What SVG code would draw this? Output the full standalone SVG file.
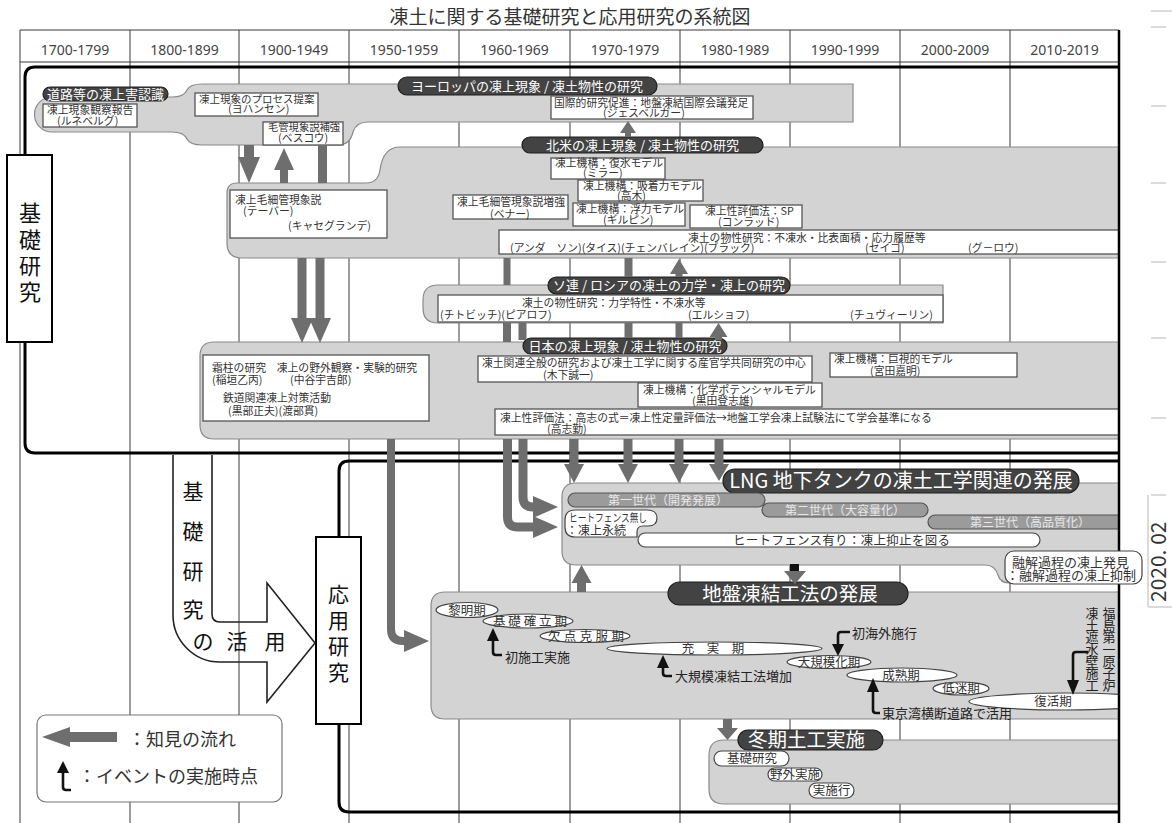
<svg xmlns="http://www.w3.org/2000/svg" width="1172" height="823" viewBox="0 0 1172 823">
<defs>
<style>
text{font-family:"Noto Sans CJK JP","Noto Sans CJK SC",sans-serif;fill:#333}
.hd{font-family:"Noto Sans","Liberation Sans",sans-serif;font-size:14px;text-anchor:middle;fill:#444}
.s{font-size:10.8px}
.rg{fill:#d3d3d3;stroke:#8a8a8a;stroke-width:1.2}
.bx{fill:#fff;stroke:#555;stroke-width:1.3}
.pl{fill:#434343;stroke:#1e1e1e;stroke-width:1.2}
.pt{fill:#fff;font-size:13px;text-anchor:middle}
.big{fill:#fff;text-anchor:middle}
.gn{fill:#9b9b9b;stroke:#555;stroke-width:1.2}
.gt{fill:#e8e8e8;font-size:12px;text-anchor:middle}
.wp{fill:#fff;stroke:#444;stroke-width:1.2}
.ph{font-size:12.5px;text-anchor:middle;fill:#333}
.ev{fill:none;stroke:#111;stroke-width:2.6}
.eh{fill:#111}
.et{font-size:13px;fill:#222}
.ar{fill:#6e6e6e}
.ab{fill:none;stroke:#6e6e6e}
.gl{stroke:#3a3a3a;stroke-width:1}
.th{fill:none;stroke:#000;stroke-width:3}
.lb{fill:#fff;stroke:#000;stroke-width:2}
.vt{text-anchor:middle;fill:#111}
.art{stroke:#cfcfcf;stroke-width:1.5}
</style>
<clipPath id="cp"><rect x="0" y="0" width="1119" height="823"/></clipPath>
</defs>
<rect width="1172" height="823" fill="#fff"/>
<text x="570" y="24" font-size="19" text-anchor="middle" fill="#222">凍土に関する基礎研究と応用研究の系統図</text>

<g id="grid">
<line class="gl" x1="20" y1="30" x2="1119" y2="30"/>
<line class="gl" x1="20" y1="62" x2="1119" y2="62"/>
<line class="gl" x1="20" y1="30" x2="20" y2="823"/>
<line class="gl" x1="130" y1="30" x2="130" y2="823"/>
<line class="gl" x1="239" y1="30" x2="239" y2="823"/>
<line class="gl" x1="349" y1="30" x2="349" y2="823"/>
<line class="gl" x1="459" y1="30" x2="459" y2="823"/>
<line class="gl" x1="570" y1="30" x2="570" y2="823"/>
<line class="gl" x1="680" y1="30" x2="680" y2="823"/>
<line class="gl" x1="790" y1="30" x2="790" y2="823"/>
<line class="gl" x1="900" y1="30" x2="900" y2="823"/>
<line class="gl" x1="1010" y1="30" x2="1010" y2="823"/>
<text class="hd" x="75" y="55">1700-1799</text>
<text class="hd" x="184.5" y="55">1800-1899</text>
<text class="hd" x="294" y="55">1900-1949</text>
<text class="hd" x="404" y="55">1950-1959</text>
<text class="hd" x="514.5" y="55">1960-1969</text>
<text class="hd" x="625" y="55">1970-1979</text>
<text class="hd" x="735" y="55">1980-1989</text>
<text class="hd" x="845" y="55">1990-1999</text>
<text class="hd" x="955" y="55">2000-2009</text>
<text class="hd" x="1064.5" y="55">2010-2019</text>
</g>

<g id="frames">
<path class="th" d="M25,155 V77 Q25,67 35,67 H1119"/>
<path class="th" d="M25,342 V443 Q25,453 35,453 H1119"/>
<path class="th" d="M339,537 V471 Q339,461 349,461 H1119"/>
<path class="th" d="M339,724 V802 Q339,812 349,812 H1119"/>
</g>

<g id="label-kiso">
<rect class="lb" x="7" y="155" width="45" height="187"/>
<text class="vt" font-size="22"><tspan x="30" y="221">基</tspan><tspan x="30" y="248">礎</tspan><tspan x="30" y="274">研</tspan><tspan x="30" y="300">究</tspan></text>
</g>
<g id="label-oyo">
<rect class="lb" x="316" y="537" width="45" height="187"/>
<text class="vt" font-size="21"><tspan x="338.5" y="601.5">応</tspan><tspan x="338.5" y="627.5">用</tspan><tspan x="338.5" y="653.5">研</tspan><tspan x="338.5" y="679.5">究</tspan></text>
</g>
<g id="katsuyo">
<path d="M173,455 V615 A47,47 0 0 0 220,662 H267 V702 L315,643 L267,583 V622 H220 Q212,622 212,614 V455" fill="none" stroke="#222" stroke-width="1.6"/>
<text class="vt" font-size="21"><tspan x="193" y="498.5">基</tspan><tspan x="193" y="538.5">礎</tspan><tspan x="193" y="578.5">研</tspan><tspan x="193" y="616.5">究</tspan><tspan x="203" y="648.5">の</tspan><tspan x="237" y="648.5">活</tspan><tspan x="275" y="648.5">用</tspan></text>
</g>

<g id="europe">
<path class="rg" d="M52,97 H172 Q184,97 187,90 Q190,84 202,84 H853 V122 H368 Q356,122 353,132 Q350,145 338,145 H202 Q190,145 187,139 Q184,132 172,132 H52 A17.5,17.5 0 0 1 52,97 Z"/>
<rect class="pl" x="43" y="87" width="125" height="14" rx="7"/>
<text class="pt" x="105.5" y="98.5">道路等の凍上害認識</text>
<rect class="pl" x="398" y="77" width="259" height="18" rx="9"/>
<text class="pt" x="527" y="91">ヨーロッパの凍上現象 / 凍土物性の研究</text>
<rect class="bx" x="43" y="104" width="94" height="23"/>
<text class="s"><tspan x="47" y="114">凍上現象観察報告</tspan><tspan x="57" y="125">(ルネベルグ)</tspan></text>
<rect class="bx" x="195" y="93" width="123" height="23"/>
<text class="s"><tspan x="199" y="103" font-size="10.5">凍上現象のプロセス提案</tspan><tspan x="228" y="113">(ヨハンセン)</tspan></text>
<rect class="bx" x="263" y="122" width="80" height="23"/>
<text class="s"><tspan x="268" y="131" font-size="10.3">毛管現象説補強</tspan><tspan x="278" y="142">(ベスコウ)</tspan></text>
<rect class="bx" x="551" y="96" width="202" height="23"/>
<text class="s"><tspan x="554" y="106.5">国際的研究促進：地盤凍結国際会議発足</tspan><tspan x="603" y="117">(ジェスベルガー)</tspan></text>
</g>

<g id="northamerica">
<path class="rg" d="M237,183 H366 Q378,183 380,170 Q383,147 400,147 H1119 V258 H242 Q227,258 227,243 V193 Q227,183 237,183 Z"/>
<rect class="pl" x="522" y="137" width="241" height="16" rx="8"/>
<text class="pt" x="642.5" y="149.5">北米の凍上現象 / 凍土物性の研究</text>
<rect class="bx" x="230" y="190" width="157" height="48"/>
<text class="s"><tspan x="235" y="204">凍上毛細管現象説</tspan><tspan x="243" y="215">(テーバー)</tspan><tspan x="288" y="230">(キャセグランデ)</tspan></text>
<rect class="bx" x="551" y="158" width="114" height="21"/>
<text class="s"><tspan x="555" y="167">凍上機構：復氷モデル</tspan><tspan x="583" y="177">(ミラー)</tspan></text>
<rect class="bx" x="578" y="180" width="125" height="21"/>
<text class="s"><tspan x="583" y="189.5">凍上機構：吸着力モデル</tspan><tspan x="617" y="199.5">(高木)</tspan></text>
<rect class="bx" x="453" y="195" width="115" height="24"/>
<text class="s"><tspan x="457" y="206">凍上毛細管現象説増強</tspan><tspan x="490" y="217.5">(ベナー)</tspan></text>
<rect class="bx" x="573" y="203" width="112" height="23"/>
<text class="s"><tspan x="576" y="213">凍上機構：浮力モデル</tspan><tspan x="603" y="224">(ギルピン)</tspan></text>
<rect class="bx" x="690" y="205" width="112" height="23"/>
<text class="s"><tspan x="705" y="215">凍上性評価法：SP</tspan><tspan x="718" y="225.5">(コンラッド)</tspan></text>
<rect class="bx" x="499" y="230" width="620" height="24"/>
<text class="s"><tspan x="688" y="241.5">凍土の物性研究：不凍水・比表面積・応力履歴等</tspan><tspan x="510" y="252">(アンダ　ソン)(タイス)(チェンバレイン)(ブラック)</tspan><tspan x="865" y="252">(セイゴ)</tspan><tspan x="968" y="252">(グ－ロウ)</tspan></text>
</g>

<g id="soviet">
<path class="rg" d="M438,285 H943 V323 H438 Q423,323 423,308 V300 Q423,285 438,285 Z"/>
<rect class="bx" x="438" y="295" width="505" height="27"/>
<rect class="pl" x="548" y="277" width="242" height="17" rx="8.5"/>
<text class="pt" x="669" y="290">ソ連 / ロシアの凍土の力学・凍上の研究</text>
<text class="s"><tspan x="522" y="307">凍土の物性研究：力学特性・不凍水等</tspan><tspan x="440" y="318.5">(チトビッチ)(ピアロフ)</tspan><tspan x="688" y="318.5">(エルショフ)</tspan><tspan x="850" y="318.5">(チュヴィーリン)</tspan></text>
</g>

<g id="japan">
<path class="rg" d="M214,342 H1119 V439 H214 Q200,439 200,425 V356 Q200,342 214,342 Z"/>
<rect class="pl" x="523" y="338" width="204" height="16" rx="8"/>
<text class="pt" x="625" y="350.5">日本の凍上現象 / 凍土物性の研究</text>
<rect class="bx" x="203" y="355" width="226" height="66"/>
<text class="s"><tspan x="212" y="372">霜柱の研究　凍上の野外観察・実験的研究</tspan><tspan x="212" y="384">(稲垣乙丙)</tspan><tspan x="290" y="384">(中谷宇吉郎)</tspan><tspan x="223" y="402">鉄道関連凍上対策活動</tspan><tspan x="228" y="415">(黒部正夫)(渡部貫)</tspan></text>
<rect class="bx" x="478" y="356" width="334" height="26"/>
<text class="s"><tspan x="482" y="366.5">凍土関連全般の研究および凍土工学に関する産官学共同研究の中心</tspan><tspan x="543" y="379">(木下誠一)</tspan></text>
<rect class="bx" x="830" y="353" width="187" height="24"/>
<text class="s"><tspan x="834" y="363">凍上機構：巨視的モデル</tspan><tspan x="870" y="375">(宮田嘉明)</tspan></text>
<rect class="bx" x="638" y="383" width="184" height="24"/>
<text class="s"><tspan x="643" y="393.5">凍上機構：化学ポテンシャルモデル</tspan><tspan x="692" y="405">(黒田登志雄)</tspan></text>
<rect class="bx" x="495" y="409" width="624" height="26"/>
<text class="s"><tspan x="500" y="422">凍上性評価法：高志の式＝凍上性定量評価法→地盤工学会凍上試験法にて学会基準になる</tspan><tspan x="547" y="433">(高志勤)</tspan></text>
</g>

<g id="lng">
<path class="rg" d="M576,483 H1119 V583 H1010 Q1000,583 998,575 Q995,565 985,565 H576 Q562,565 562,551 V497 Q562,483 576,483 Z"/>
<rect class="pl" x="723" y="469" width="356" height="24" rx="12"/>
<text class="big" x="901" y="488" font-size="20">LNG 地下タンクの凍土工学関連の発展</text>
<rect class="gn" x="568" y="493" width="197" height="14" rx="7"/>
<text class="gt" x="668" y="504.5">第一世代（開発発展）</text>
<rect class="gn" x="762" y="503" width="166" height="14" rx="7"/>
<text class="gt" x="845" y="514.5">第二世代（大容量化）</text>
<rect class="gn" x="928" y="515" width="210" height="14" rx="7" clip-path="url(#cp)"/>
<text class="gt" x="1030" y="526.5">第三世代（高品質化）</text>
<rect class="wp" x="638" y="533" width="402" height="14" rx="7"/>
<text x="733" y="544.5" font-size="12.5" textLength="217" lengthAdjust="spacing">ヒートフェンス有り：凍上抑止を図る</text>
<path class="wp" d="M575,510 H647 Q657,510 657,518 Q657,526 648,526 H643 Q637,526 637,532 V537 H575 Q565,537 565,527 V520 Q565,510 575,510 Z"/>
<text><tspan x="569" y="522" font-size="11" textLength="78" lengthAdjust="spacingAndGlyphs">ヒートフェンス無し</tspan><tspan x="566" y="534.5" font-size="12">：凍上永続</tspan></text>
</g>

<g id="jiban">
<path class="rg" d="M445,592 H1119 V719 H445 Q431,719 431,705 V606 Q431,592 445,592 Z"/>
<rect class="pl" x="668" y="582" width="240" height="23" rx="11.5"/>
<text class="big" x="790" y="601" font-size="19.5">地盤凍結工法の発展</text>
<ellipse class="wp" cx="467" cy="610" rx="31" ry="7.5"/>
<text class="ph" x="467" y="614.5">黎明期</text>
<ellipse class="wp" cx="528" cy="621" rx="45" ry="7"/>
<text class="ph" x="530" y="625.5" textLength="74" lengthAdjust="spacing">基礎確立期</text>
<ellipse class="wp" cx="585" cy="636" rx="45" ry="6.5"/>
<text class="ph" x="586" y="640.5" textLength="76" lengthAdjust="spacing">欠点克服期</text>
<ellipse class="wp" cx="714.5" cy="648.5" rx="107.5" ry="6.5"/>
<text class="ph" x="713" y="653" font-size="12">充　実　期</text>
<ellipse class="wp" cx="829" cy="662" rx="42" ry="6.5"/>
<text class="ph" x="829" y="666.5">大規模化期</text>
<ellipse class="wp" cx="902" cy="675" rx="55" ry="7"/>
<text class="ph" x="901" y="679.5">成熟期</text>
<ellipse class="wp" cx="961" cy="688.5" rx="28" ry="6.5"/>
<text class="ph" x="961" y="693">低迷期</text>
<ellipse class="wp" cx="1066" cy="701.5" rx="97" ry="8.5" clip-path="url(#cp)"/>
<text class="ph" x="1053" y="706">復活期</text>
</g>

<g id="events">
<polygon class="eh" points="487,641 499,641 493,628"/>
<path class="ev" d="M493,640 V652 Q493,655 496,655 H502"/>
<text class="et" x="505" y="661.5">初施工実施</text>
<polygon class="eh" points="657,668 669,668 663,655"/>
<path class="ev" d="M663,667 V673 Q663,676 666,676 H672"/>
<text class="et" x="675" y="680.5">大規模凍結工法増加</text>
<path class="ev" d="M850,632 H841 Q838,632 838,635 V645"/>
<polygon class="eh" points="832,644 844,644 838,656"/>
<text class="et" x="852" y="637.5">初海外施行</text>
<polygon class="eh" points="867,692 879,692 873,678"/>
<path class="ev" d="M873,690 V710 Q873,713 876,713 H880"/>
<text class="et" x="882" y="717.5">東京湾横断道路で活用</text>
<path class="ev" d="M1088,652 H1076 Q1073,652 1073,655 V681"/>
<polygon class="eh" points="1067,680 1079,680 1073,695"/>
<text class="et" text-anchor="middle" font-size="12.3"><tspan x="1092" y="617.5">凍</tspan><tspan x="1092" y="629.5">土</tspan><tspan x="1092" y="641.5">遮</tspan><tspan x="1092" y="653.5">水</tspan><tspan x="1092" y="665.5">壁</tspan><tspan x="1092" y="677.5">施</tspan><tspan x="1092" y="689.5">工</tspan><tspan x="1109" y="617.5">福</tspan><tspan x="1109" y="629.5">島</tspan><tspan x="1109" y="641.5">第</tspan><tspan x="1109" y="653.5">一</tspan><tspan x="1109" y="665.5">原</tspan><tspan x="1109" y="677.5">子</tspan><tspan x="1109" y="689.5">炉</tspan></text>
</g>

<g id="winter">
<path class="rg" d="M724,740 H1119 V804 H724 Q709,804 709,789 V755 Q709,740 724,740 Z"/>
<rect class="pl" x="738" y="730" width="145" height="20" rx="10"/>
<text class="big" x="806.5" y="747" font-size="19.5">冬期土工実施</text>
<rect class="wp" x="714" y="751" width="75" height="15" rx="7.5"/>
<text class="ph" x="752" y="762.5" font-size="13">基礎研究</text>
<rect class="wp" x="768" y="768" width="54" height="13" rx="6.5"/>
<text class="ph" x="795" y="778.5" font-size="12">野外実施</text>
<rect class="wp" x="809" y="783" width="45" height="15" rx="7.5"/>
<text class="ph" x="831.5" y="795" font-size="13">実施行</text>
</g>

<g id="connectors">
<polygon class="ar" points="244,145 254,145 254,157 260,157 249,183 238,157 244,157"/>
<polygon class="ar" points="280,183 280,170 274,170 284,148 294,170 288,170 288,183"/>
<rect class="ar" x="318" y="145" width="9" height="38"/>
<polygon class="ar" points="625,137 625,133 620,133 628,121 636,133 631,133 631,137"/>
<polygon class="ar" points="297.5,258 306.5,258 306.5,318 313,318 302,343 291,318 297.5,318"/>
<polygon class="ar" points="315.5,258 324.5,258 324.5,318 331,318 320,343 309,318 315.5,318"/>
<rect class="ar" x="503.5" y="258" width="7" height="27"/>
<rect class="ar" x="624.5" y="258" width="8" height="19"/>
<polygon class="ar" points="675.5,277 675.5,274 670,274 679,259 688,274 682.5,274 682.5,277"/>
<rect class="ar" x="503" y="323" width="8" height="19"/>
<rect class="ar" x="518.5" y="323" width="8" height="17"/>
<rect class="ar" x="624.5" y="323" width="8" height="15"/>
<rect class="ar" x="675.5" y="323" width="7" height="15"/>
<polygon class="ar" points="715,340 715,337 709.5,337 718.5,323 727.5,337 722,337 722,340"/>
<polygon class="ar" points="569.5,439 578.5,439 578.5,464 584,464 574,483 564,464 569.5,464"/>
<polygon class="ar" points="623.5,439 632.5,439 632.5,464 638,464 628,483 618,464 623.5,464"/>
<polygon class="ar" points="674.5,439 683.5,439 683.5,464 689,464 679,483 669,464 674.5,464"/>
<polygon class="ar" points="714.5,439 723.5,439 723.5,464 729,464 719,481 709,464 714.5,464"/>
<path class="ab" stroke-width="9" d="M523,439 V497 Q523,507 533,507 H536"/>
<polygon class="ar" points="533,496 558,507 533,518"/>
<path class="ab" stroke-width="9" d="M507.5,439 V517 Q507.5,527 517.5,527 H536"/>
<polygon class="ar" points="533,516 558,527 533,538"/>
<path class="ab" stroke-width="8" d="M391,439 V629 Q391,641 403,641 H406"/>
<polygon class="ar" points="404,630 429,641 404,652"/>
<polygon class="ar" points="577,592 577,583 571.5,583 581.5,565 591.5,583 586,583 586,592"/>
<rect x="790" y="564" width="9" height="7" fill="#111"/>
<polygon class="ar" points="784,571 806,571 795,584"/>
<polygon class="ar" points="723,719 732,719 732,728 738,728 727.5,740 717,728 723,728"/>
</g>

<line x1="1119" y1="30" x2="1119" y2="823" stroke="#000" stroke-width="2.5"/>

<g id="yukai">
<rect class="wp" x="1005" y="551" width="137" height="33" rx="9"/>
<text font-size="13"><tspan x="1012" y="566.5">融解過程の凍上発見</tspan><tspan x="1006" y="579.5">：融解過程の凍上抑制</tspan></text>
</g>

<g id="legend">
<rect x="37" y="715" width="245" height="87" rx="9" fill="#fff" stroke="#777" stroke-width="1.2"/>
<polygon class="ar" points="42,737 70,727 70,732 117,732 117,742 70,742 70,747"/>
<text x="128" y="746" font-size="18">：知見の流れ</text>
<polygon class="eh" points="57,773 69,773 63,761"/>
<path class="ev" stroke-width="3" d="M63,772 V787 Q63,790 66,790 H71"/>
<text x="78" y="783" font-size="18">：イベントの実施時点</text>
</g>

<g id="margin">
<line class="art" x1="1151" y1="11" x2="1172" y2="11"/>
<line class="art" x1="1151" y1="27" x2="1166" y2="27"/>
<line class="art" x1="1151" y1="106" x2="1166" y2="106"/>
<line class="art" x1="1151" y1="183" x2="1166" y2="183"/>
<line class="art" x1="1151" y1="262" x2="1166" y2="262"/>
<line class="art" x1="1151" y1="338" x2="1166" y2="338"/>
<line class="art" x1="1151" y1="418" x2="1166" y2="418"/>
<line class="art" x1="1151" y1="495" x2="1166" y2="495"/>
<line class="art" x1="1148" y1="495" x2="1148" y2="607"/>
<line class="art" x1="1148" y1="607" x2="1172" y2="607"/>
<text transform="translate(1166,602) rotate(-90)" font-size="21" fill="#555">2020. 02</text>
</g>
</svg>
